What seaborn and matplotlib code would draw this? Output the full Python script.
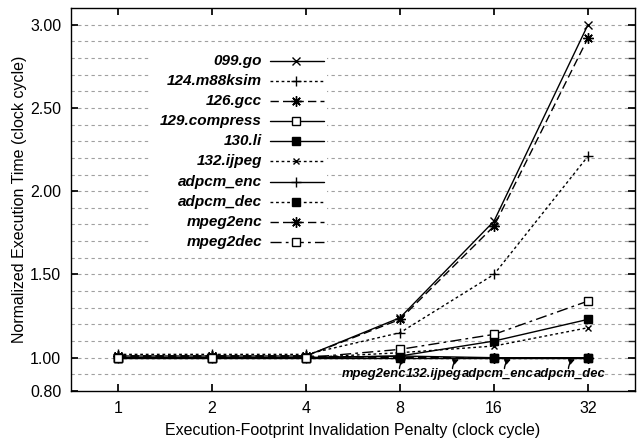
import matplotlib
matplotlib.use("Agg")
import matplotlib.pyplot as plt
import seaborn as sns
import numpy as np
from matplotlib.lines import Line2D
from matplotlib.patches import Rectangle

sns.set_theme(style="white")
plt.rcParams['font.family'] = ['Liberation Sans', 'DejaVu Sans']

penalties = ["1", "2", "4", "8", "16", "32"]
go_099 = [1.01, 1.01, 1.01, 1.24, 1.82, 3.00]
m88ksim_124 = [1.02, 1.02, 1.02, 1.15, 1.50, 2.21]
gcc_126 = [1.01, 1.01, 1.01, 1.23, 1.79, 2.92]
compress_129 = [1.00, 1.00, 1.00, 1.01, 1.00, 1.00]
li_130 = [1.00, 1.00, 1.00, 1.01, 1.10, 1.23]
ijpeg_132 = [1.00, 1.00, 1.00, 1.03, 1.07, 1.18]
adpcm_enc = [1.00, 1.00, 1.00, 1.00, 1.00, 1.00]
adpcm_dec = [1.00, 1.00, 1.00, 1.00, 1.00, 1.00]
mpeg2enc = [1.01, 1.01, 1.01, 1.00, 1.00, 1.00]
mpeg2dec = [1.00, 1.00, 1.00, 1.05, 1.14, 1.34]

series_names = ["099.go", "124.m88ksim", "126.gcc", "129.compress", "130.li",
                "132.ijpeg", "adpcm_enc", "adpcm_dec", "mpeg2enc", "mpeg2dec"]
series_values = [go_099, m88ksim_124, gcc_126, compress_129, li_130,
                 ijpeg_132, adpcm_enc, adpcm_dec, mpeg2enc, mpeg2dec]

annot_labels = ["mpeg2enc", "132.ijpeg", "adpcm_enc", "adpcm_dec"]

ASTER = (8, 2, 0)
styles = [
    dict(ls='-', marker='x', ms=5.5, mfc='black'),
    dict(ls=(0, (2, 2)), marker='+', ms=7.5, mfc='black'),
    dict(ls=(0, (6, 3)), marker=ASTER, ms=7.5, mfc='black'),
    dict(ls='-', marker='s', ms=6, mfc='white'),
    dict(ls='-', marker='s', ms=6, mfc='black'),
    dict(ls=(0, (2, 2)), marker='x', ms=4.5, mfc='black'),
    dict(ls='-', marker='+', ms=7.5, mfc='black'),
    dict(ls=(0, (2, 2)), marker='s', ms=6, mfc='black'),
    dict(ls=(0, (6, 3)), marker=ASTER, ms=7.5, mfc='black'),
    dict(ls=(0, (8, 3, 2, 3)), marker='s', ms=6, mfc='white'),
]

W, H = 639, 438
fig = plt.figure(figsize=(W / 100, H / 100), dpi=100)
ax = fig.add_axes([71 / W, 1 - 391 / H, (635 - 71) / W, (391 - 8) / H])

xpos = np.arange(len(penalties))
for name, vals, st in zip(series_names, series_values, styles):
    sns.lineplot(x=xpos, y=vals, ax=ax, color='black', linestyle=st['ls'],
                 marker=st['marker'], markersize=st['ms'],
                 markerfacecolor=st['mfc'], markeredgecolor='black',
                 markeredgewidth=1.0, linewidth=1.0, legend=False)

ax.set_xlim(-0.5, len(penalties) - 0.5)
ax.set_ylim(0.8, 3.1)
ax.set_xticks(xpos)
ax.set_xticklabels(penalties)
ax.set_yticks([0.8, 1.0, 1.5, 2.0, 2.5, 3.0])
ax.set_yticklabels(["0.80", "1.00", "1.50", "2.00", "2.50", "3.00"])
ax.set_yticks(np.arange(0.9, 3.05, 0.1), minor=True)
ax.grid(False)
for y in np.arange(0.9, 3.05, 0.1):
    ax.axhline(y, color='#a0a0a0', lw=0.8, ls=(0, (3, 3)), zorder=0)

ax.tick_params(axis='both', which='major', direction='in', length=5,
               labelsize=11.5, colors='black', top=True, right=True, left=True, bottom=True, pad=7)
ax.tick_params(axis='y', which='minor', direction='in', length=5, left=False, right=True)
for sp in ax.spines.values():
    sp.set_color('black')
    sp.set_linewidth(1.0)

ax.set_xlabel("Execution-Footprint Invalidation Penalty (clock cycle)", fontsize=11.5, color='black', labelpad=5)
ax.set_ylabel("Normalized Execution Time (clock cycle)", fontsize=11.5, color='black', labelpad=2)

# legend (manual, right-aligned labels)
def fx(px):
    return (px - 71) / (635 - 71)
def fy(py):
    return (391 - py) / (391 - 8)

ax.add_patch(Rectangle((fx(150), fy(252)), fx(327) - fx(150), fy(50) - fy(252),
                       transform=ax.transAxes, facecolor='white', edgecolor='none', zorder=3))
for i, (name, st) in enumerate(zip(series_names, styles)):
    py = 60.5 + i * 20.2
    ax.text(fx(262), fy(py), name, transform=ax.transAxes, ha='right', va='center',
            fontsize=11, fontweight='bold', fontstyle='italic', color='black', zorder=4)
    ax.add_line(Line2D([fx(270), fx(324)], [fy(py), fy(py)], transform=ax.transAxes,
                       color='black', lw=1.0, ls=st['ls'], zorder=4))
    ax.add_line(Line2D([fx(296.5)], [fy(py)], transform=ax.transAxes, marker=st['marker'],
                       ms=st['ms'], mfc=st['mfc'], mec='black', mew=1.0, ls='none', zorder=5))

# annotations: labels chained one after another, arrows pointing at the flat line
head_x = [3.064, 3.628, 4.181, 4.862]
prev = None
for lab in annot_labels:
    if prev is None:
        prev = ax.text(2.38, 0.902, lab, ha='left', va='center', fontsize=9.4,
                       fontweight='bold', fontstyle='italic', color='black', zorder=4)
    else:
        prev = ax.annotate(lab, xy=(1, 0.5), xycoords=prev, ha='left', va='center',
                           fontsize=9.4, fontweight='bold', fontstyle='italic',
                           color='black', zorder=4)
for hx in head_x:
    ax.annotate("", xy=(hx, 0.99), xytext=(hx - 0.07, 0.935),
                arrowprops=dict(arrowstyle='-|>', color='black', lw=1.0,
                                mutation_scale=8, shrinkA=0, shrinkB=0,
                                connectionstyle='arc3,rad=-0.3'),
                zorder=4)

fig.savefig("out.png", dpi=100)
